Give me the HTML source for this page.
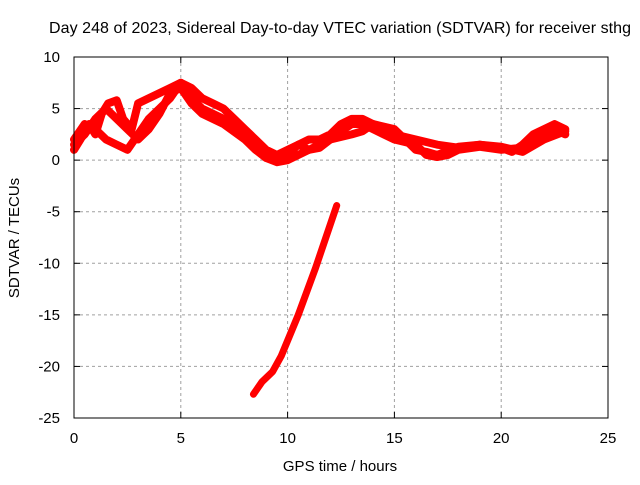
<!DOCTYPE html>
<html><head><meta charset="utf-8"><style>
body{margin:0;background:#fff}
svg text{font-family:"Liberation Sans",sans-serif;font-size:15px;fill:#000}
</style></head><body>
<svg id="c" width="640" height="480">
<text x="340" y="33" text-anchor="middle" style="font-size:16px" textLength="582">Day 248 of 2023, Sidereal Day-to-day VTEC variation (SDTVAR) for receiver sthg</text>
<text x="340" y="471" text-anchor="middle">GPS time / hours</text>
<text transform="translate(19,238) rotate(-90)" text-anchor="middle">SDTVAR / TECUs</text>
<g id="grid"></g>
<g id="marks"></g>
<rect x="74" y="57" width="534" height="361" fill="none" stroke="#000"/>
<g id="ticks"></g>
</svg>
<script>
const xTicks=[0,5,10,15,20,25];
const yTicks=[10,5,0,-5,-10,-15,-20,-25];
const trackAh=[0,0.3,0.7,1,1.3,1.6,2,2.3,2.7,3,3.5,4,4.5,5,5.5,6,6.5,7,7.5,8,8.5,9,9.5,10,10.5,11,11.5,12,12.5,13,13.5,14,14.5,15,16,17,18,19,20,20.5,21,21.5,22,22.5,23];
const trackAv=[1,2,3.5,2.5,4.5,5.5,5.8,4,3,5.5,6,6.5,7,7.5,6,5,4.5,4,3.5,2.5,1.5,0.5,0,0.5,1.5,2,2,2.5,3.5,4,4,3.5,3,2.5,2,1.5,1.2,1.5,1.2,0.8,1.5,2.5,3,3.5,3];
const trackBh=[0,0.5,1,1.5,2,2.5,3,3.5,4,4.5,5,5.5,6,6.5,7,7.5,8,8.5,9,9.5,10,10.5,11,11.5,12,12.5,13,13.5,14,14.5,15,16,16.5,17,17.5,18,19,20,21,22,22.5,23];
const trackBv=[2,3.5,3,2,1.5,1,2.5,4,5,6,7.5,7,6,5.5,5,4,3,2,1,0.5,1,1.5,1,1.2,2,2.8,3.5,3.5,3,2.5,2,1.5,0.5,0.3,0.5,1,1.3,1,1.2,2.5,3,2.5];
const trackCh=[0,0.5,1,1.5,2,2.5,3,3.5,4,4.5,5,5.5,6,7,8,8.5,9,9.5,10,11,12,13,13.5,14,15,15.5,16,16.5,17,18,19,20,21,22,23];
const trackCv=[1.5,2.5,4,5,4,3,2,3,4.5,6.5,7,5.5,4.5,3.5,2,1,0.2,-0.2,0,1,2,2.5,2.8,3.5,3,2,1,0.8,0.5,1.3,1.5,1.3,0.8,2,2.8];
const trackDh=[8.4,8.8,9.3,9.7,10.5,11.3,12.3];
const trackDv=[-22.7,-21.5,-20.5,-19,-15,-10.5,-4.4];
const X=h=>74+h*534/25, Y=v=>57+(10-v)*361/35;
const NS='http://www.w3.org/2000/svg';
const grid=document.getElementById('grid'),ticks=document.getElementById('ticks'),marks=document.getElementById('marks');
function mk(tag,a,p){const e=document.createElementNS(NS,tag);for(const k in a)e.setAttribute(k,a[k]);p.appendChild(e);return e;}
xTicks.forEach(t=>{
  if(t>0&&t<25){const g=mk('line',{x1:X(t),x2:X(t),y1:57,y2:418,stroke:'#a0a0a0','stroke-dasharray':'3,3'},grid);
  
  }
  const tl=mk('text',{x:X(t),y:443,'text-anchor':'middle'},ticks);tl.textContent=t;
  
  
  mk('line',{x1:X(t),x2:X(t),y1:418,y2:412,stroke:'#000'},ticks);mk('line',{x1:X(t),x2:X(t),y1:57,y2:63,stroke:'#000'},ticks);
});
yTicks.forEach(t=>{
  if(t<10&&t>-25){const g=mk('line',{x1:74,x2:608,y1:Y(t),y2:Y(t),stroke:'#a0a0a0','stroke-dasharray':'3,3'},grid);
  
  }
  const tl=mk('text',{x:60,y:Y(t)+5,'text-anchor':'end'},ticks);tl.textContent=t;
  
  
  mk('line',{x1:74,x2:80,y1:Y(t),y2:Y(t),stroke:'#000'},ticks);mk('line',{x1:602,x2:608,y1:Y(t),y2:Y(t),stroke:'#000'},ticks);
});
[[trackAh,trackAv],[trackBh,trackBv],[trackCh,trackCv],[trackDh,trackDv]].forEach((tr,i)=>{
  const pts=tr[0].map((h,j)=>X(h)+','+Y(tr[1][j])).join(' ');
  const pl=mk('polyline',{points:pts,fill:'none',stroke:'#ff0000','stroke-width':i<3?8:7,'stroke-linejoin':'round','stroke-linecap':'round'},marks);
  
  
});
</script>
</body></html>
